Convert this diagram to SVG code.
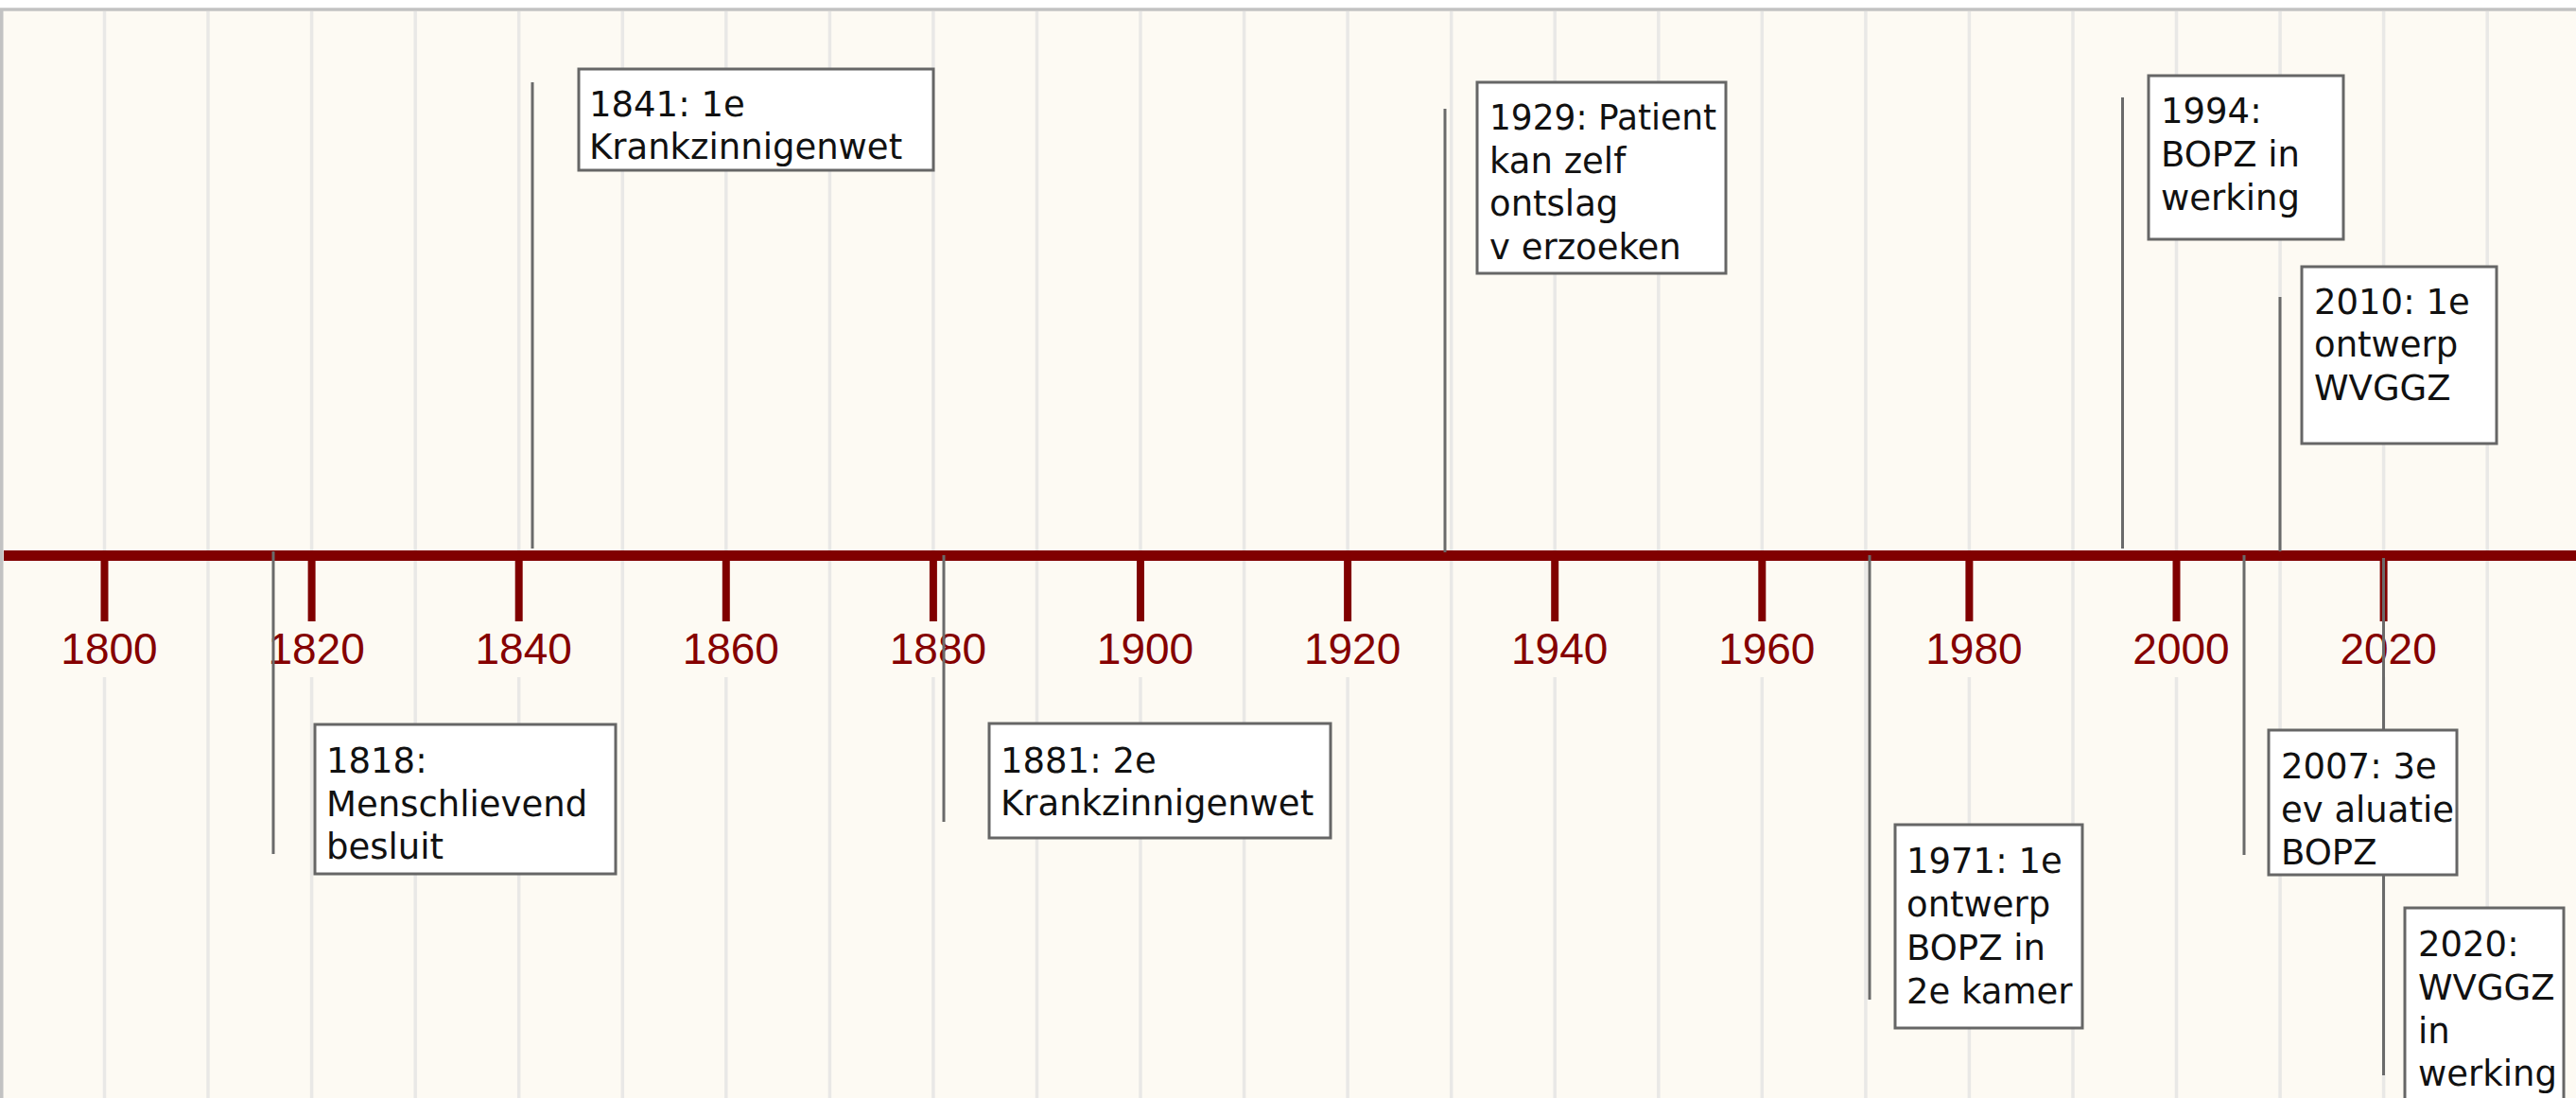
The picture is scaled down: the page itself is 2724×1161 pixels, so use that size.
<svg xmlns="http://www.w3.org/2000/svg" width="2724" height="1161" viewBox="0 0 2724 1161">
<style>
.grid{stroke:#e9e8e6;stroke-width:3.5}
.tick{stroke:#800000;stroke-width:8}
.year{font-family:"Liberation Sans",Arial,sans-serif;font-size:46px;fill:#850000;text-anchor:middle}
.lead{stroke:#6a6a6a;stroke-width:3}
.box{fill:#ffffff;stroke:#666666;stroke-width:3}
.lbl{font-family:"DejaVu Sans",Verdana,sans-serif;font-size:37px;fill:#111111}
</style>
<rect x="0" y="0" width="2724" height="1161" fill="#ffffff"/>
<rect x="1.75" y="10" width="2800" height="1300" fill="#fdfaf3" stroke="#c2c2c2" stroke-width="3.5"/>
<g id="gridlines">
<line class="grid" x1="110.5" y1="12" x2="110.5" y2="582"/><line class="grid" x1="110.5" y1="716" x2="110.5" y2="1161"/>
<line class="grid" x1="220" y1="12" x2="220" y2="1161"/>
<line class="grid" x1="329.6" y1="12" x2="329.6" y2="582"/><line class="grid" x1="329.6" y1="716" x2="329.6" y2="1161"/>
<line class="grid" x1="439.2" y1="12" x2="439.2" y2="1161"/>
<line class="grid" x1="548.7" y1="12" x2="548.7" y2="582"/><line class="grid" x1="548.7" y1="716" x2="548.7" y2="1161"/>
<line class="grid" x1="658.3" y1="12" x2="658.3" y2="1161"/>
<line class="grid" x1="767.8" y1="12" x2="767.8" y2="582"/><line class="grid" x1="767.8" y1="716" x2="767.8" y2="1161"/>
<line class="grid" x1="877.4" y1="12" x2="877.4" y2="1161"/>
<line class="grid" x1="986.9" y1="12" x2="986.9" y2="582"/><line class="grid" x1="986.9" y1="716" x2="986.9" y2="1161"/>
<line class="grid" x1="1096.5" y1="12" x2="1096.5" y2="1161"/>
<line class="grid" x1="1206" y1="12" x2="1206" y2="582"/><line class="grid" x1="1206" y1="716" x2="1206" y2="1161"/>
<line class="grid" x1="1315.6" y1="12" x2="1315.6" y2="1161"/>
<line class="grid" x1="1425.1" y1="12" x2="1425.1" y2="582"/><line class="grid" x1="1425.1" y1="716" x2="1425.1" y2="1161"/>
<line class="grid" x1="1534.7" y1="12" x2="1534.7" y2="1161"/>
<line class="grid" x1="1644.2" y1="12" x2="1644.2" y2="582"/><line class="grid" x1="1644.2" y1="716" x2="1644.2" y2="1161"/>
<line class="grid" x1="1753.8" y1="12" x2="1753.8" y2="1161"/>
<line class="grid" x1="1863.3" y1="12" x2="1863.3" y2="582"/><line class="grid" x1="1863.3" y1="716" x2="1863.3" y2="1161"/>
<line class="grid" x1="1972.9" y1="12" x2="1972.9" y2="1161"/>
<line class="grid" x1="2082.4" y1="12" x2="2082.4" y2="582"/><line class="grid" x1="2082.4" y1="716" x2="2082.4" y2="1161"/>
<line class="grid" x1="2192" y1="12" x2="2192" y2="1161"/>
<line class="grid" x1="2301.5" y1="12" x2="2301.5" y2="582"/><line class="grid" x1="2301.5" y1="716" x2="2301.5" y2="1161"/>
<line class="grid" x1="2411.1" y1="12" x2="2411.1" y2="1161"/>
<line class="grid" x1="2520.6" y1="12" x2="2520.6" y2="582"/><line class="grid" x1="2520.6" y1="716" x2="2520.6" y2="1161"/>
<line class="grid" x1="2630.2" y1="12" x2="2630.2" y2="1161"/>
</g>
<g id="axis">
<rect x="4" y="582" width="2720" height="11" fill="#800000"/>
<line class="tick" x1="110.5" y1="592" x2="110.5" y2="657"/>
<line class="tick" x1="329.6" y1="592" x2="329.6" y2="657"/>
<line class="tick" x1="548.7" y1="592" x2="548.7" y2="657"/>
<line class="tick" x1="767.8" y1="592" x2="767.8" y2="657"/>
<line class="tick" x1="986.9" y1="592" x2="986.9" y2="657"/>
<line class="tick" x1="1206" y1="592" x2="1206" y2="657"/>
<line class="tick" x1="1425.1" y1="592" x2="1425.1" y2="657"/>
<line class="tick" x1="1644.2" y1="592" x2="1644.2" y2="657"/>
<line class="tick" x1="1863.3" y1="592" x2="1863.3" y2="657"/>
<line class="tick" x1="2082.4" y1="592" x2="2082.4" y2="657"/>
<line class="tick" x1="2301.5" y1="592" x2="2301.5" y2="657"/>
<line class="tick" x1="2520.6" y1="592" x2="2520.6" y2="657"/>
<text class="year" x="115.5" y="702">1800</text>
<text class="year" x="334.6" y="702">1820</text>
<text class="year" x="553.7" y="702">1840</text>
<text class="year" x="772.8" y="702">1860</text>
<text class="year" x="991.9" y="702">1880</text>
<text class="year" x="1211" y="702">1900</text>
<text class="year" x="1430.1" y="702">1920</text>
<text class="year" x="1649.2" y="702">1940</text>
<text class="year" x="1868.3" y="702">1960</text>
<text class="year" x="2087.4" y="702">1980</text>
<text class="year" x="2306.5" y="702">2000</text>
<text class="year" x="2525.6" y="702">2020</text>
</g>
<g id="connectors">
<line class="lead" x1="289" y1="583" x2="289" y2="903"/>
<line class="lead" x1="563" y1="87" x2="563" y2="580"/>
<line class="lead" x1="998" y1="587" x2="998" y2="869"/>
<line class="lead" x1="1528" y1="115" x2="1528" y2="584"/>
<line class="lead" x1="1977" y1="587" x2="1977" y2="1057"/>
<line class="lead" x1="2244.5" y1="103" x2="2244.5" y2="580"/>
<line class="lead" x1="2373" y1="587" x2="2373" y2="904"/>
<line class="lead" x1="2411" y1="314" x2="2411" y2="583"/>
<line class="lead" x1="2520.5" y1="590" x2="2520.5" y2="1137"/>
</g>
<g id="e1818">
<rect class="box" x="333" y="766" width="318" height="158"/>
<text class="lbl" x="345" y="817">1818:</text>
<text class="lbl" x="345" y="862.5">Menschlievend</text>
<text class="lbl" x="345" y="908">besluit</text>
</g>
<g id="e1841">
<rect class="box" x="612" y="73" width="375" height="107"/>
<text class="lbl" x="623" y="123">1841: 1e</text>
<text class="lbl" x="623" y="168">Krankzinnigenwet</text>
</g>
<g id="e1881">
<rect class="box" x="1046" y="765" width="361" height="121"/>
<text class="lbl" x="1058" y="816.5">1881: 2e</text>
<text class="lbl" x="1058" y="862">Krankzinnigenwet</text>
</g>
<g id="e1929">
<rect class="box" x="1562" y="87" width="263" height="202"/>
<text class="lbl" x="1575" y="137" textLength="240" lengthAdjust="spacingAndGlyphs">1929: Patient</text>
<text class="lbl" x="1575" y="182.5">kan zelf</text>
<text class="lbl" x="1575" y="228">ontslag</text>
<text class="lbl" x="1575" y="274">v erzoeken</text>
</g>
<g id="e1971">
<rect class="box" x="2004" y="872" width="198" height="215"/>
<text class="lbl" x="2016" y="923">1971: 1e</text>
<text class="lbl" x="2016" y="969">ontwerp</text>
<text class="lbl" x="2016" y="1015">BOPZ in</text>
<text class="lbl" x="2016" y="1061">2e kamer</text>
</g>
<g id="e1994">
<rect class="box" x="2272" y="80" width="206" height="173"/>
<text class="lbl" x="2285" y="130">1994:</text>
<text class="lbl" x="2285" y="176">BOPZ in</text>
<text class="lbl" x="2285" y="221.5">werking</text>
</g>
<g id="e2007">
<rect class="box" x="2399" y="772" width="199" height="153"/>
<text class="lbl" x="2412" y="823">2007: 3e</text>
<text class="lbl" x="2412" y="868.5">ev aluatie</text>
<text class="lbl" x="2412" y="914">BOPZ</text>
</g>
<g id="e2010">
<rect class="box" x="2434" y="282" width="206" height="187"/>
<text class="lbl" x="2447" y="332">2010: 1e</text>
<text class="lbl" x="2447" y="377">ontwerp</text>
<text class="lbl" x="2447" y="423">WVGGZ</text>
</g>
<g id="e2020">
<rect class="box" x="2543" y="960" width="168" height="260"/>
<text class="lbl" x="2557" y="1011">2020:</text>
<text class="lbl" x="2557" y="1057">WVGGZ</text>
<text class="lbl" x="2557" y="1102.5">in</text>
<text class="lbl" x="2557" y="1148">werking</text>
</g>
</svg>
